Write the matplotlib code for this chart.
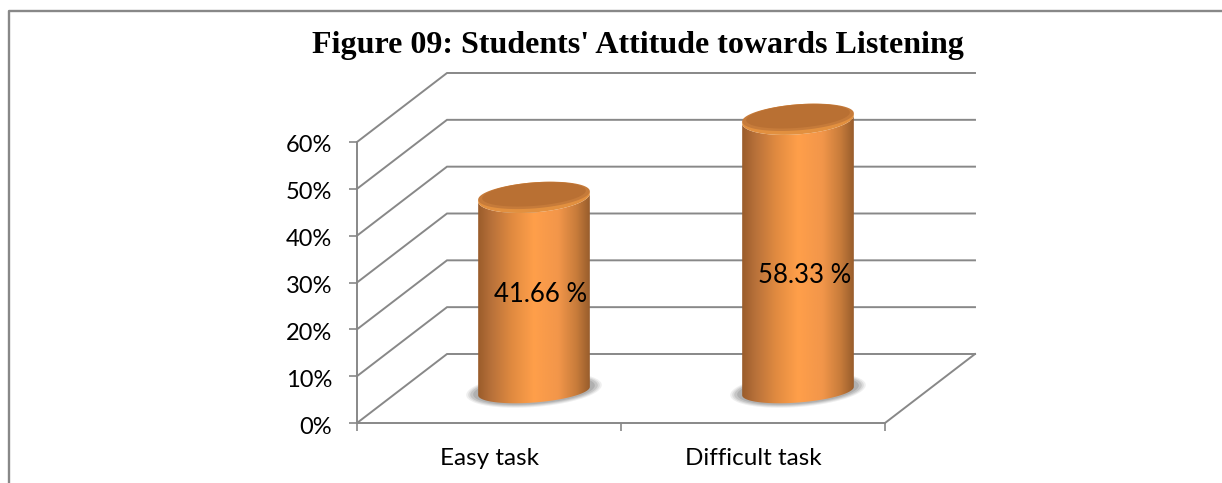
import numpy as np
import matplotlib
matplotlib.use('Agg')
import matplotlib.pyplot as plt
from matplotlib.colors import LinearSegmentedColormap
from matplotlib.patches import PathPatch
from matplotlib.path import Path
from matplotlib.transforms import ScaledTranslation

categories = ['Easy task', 'Difficult task']
values = [41.66, 58.33]
value_labels = ['41.66 %', '58.33 %']
y_ticks = [0, 10, 20, 30, 40, 50, 60]
y_tick_labels = ['0%', '10%', '20%', '30%', '40%', '50%', '60%']
title = "Figure 09: Students' Attitude towards Listening"

W, H = 1222, 483
GRAY = '#888888'
# pixels per data unit
XS, YS = 264, 4.683
# depth of the fake 3d floor, in data units
DX = 90 / XS
DY = 69 / YS

fig = plt.figure(figsize=(W / 100, H / 100), dpi=100)
ax = fig.add_axes([357 / W, (H - 423) / H, 528 / W, 281 / H])

# frame: left and top only, runs off the right side
fig.add_artist(plt.Line2D([9 / W, 9 / W, 1], [0, 1 - 11 / H, 1 - 11 / H], color=GRAY, lw=1.7))

# walls and floor
for v in y_ticks:
    ax.plot([0, DX, 2 + DX], [v, v + DY, v + DY], color=GRAY, lw=1.4,
            clip_on=False, zorder=1, solid_joinstyle='miter')
ax.plot([2, 2 + DX], [0, DY], color=GRAY, lw=1.4, clip_on=False, zorder=1)

for s in ['top', 'right']:
    ax.spines[s].set_visible(False)
for s in ['left', 'bottom']:
    ax.spines[s].set_color(GRAY)
    ax.spines[s].set_linewidth(1.4)

ax.set_yticks(y_ticks)
ax.set_yticklabels(y_tick_labels, fontsize=17, family='Lato')
ax.set_xticks([0, 1, 2])
ax.set_xticklabels([])
ax.tick_params(axis='both', length=6, width=1.2, color=GRAY, labelcolor='black')
ax.tick_params(axis='y', pad=12)
# labels sit a little under their ticks
for lab in ax.get_yticklabels():
    lab.set_transform(lab.get_transform() + ScaledTranslation(0, -2 / 100, fig.dpi_scale_trans))

for i, c in enumerate(categories):
    ax.annotate(c, (i + 0.5, 0), xytext=(0, -25.5), textcoords='offset points',
                ha='center', va='center', fontsize=17.5, family='Lato')

cyl = LinearSegmentedColormap.from_list('cyl', [
    (0, '#9a5c2b'), (0.12, '#b8713a'), (0.3, '#e08a40'), (0.5, '#ff9f4a'),
    (0.72, '#f2964a'), (0.88, '#c87c3b'), (1, '#985d2c')])
grad = np.linspace(0, 1, 256).reshape(1, -1)

half_w = 56 / XS
base = 32 / YS
top_drop = 1.5 / YS
label_shift = [-0.3, -4.5]


def ellipse_pts(cx, cy, t0, t1, a=56, b=15, n=80):
    # tilted ellipse worked out in pixels, then back in data units
    t = np.radians(np.linspace(t0, t1, n))
    px = a * np.cos(t)
    py = b * np.sin(t)
    r = np.radians(4.5)
    qx = px * np.cos(r) - py * np.sin(r)
    qy = px * np.sin(r) + py * np.cos(r)
    return cx + qx / XS, cy + qy / YS


for i, v in enumerate(values):
    cx = i + 0.5 + DX / 2
    top = base + v - top_drop

    # soft shadow under the cylinder
    for a, b, alpha in [(68, 17, 0.1), (66, 16, 0.14), (64, 15, 0.18), (61, 14, 0.22)]:
        sx, sy = ellipse_pts(cx, base + 1 / YS, 0, 360, a, b)
        ax.fill(sx, sy, color='#666666', alpha=alpha, lw=0, zorder=2, clip_on=False)

    # body: gradient clipped to the outline
    bx, by = ellipse_pts(cx, base, 180, 360, 56, 11.5)
    tx, ty = ellipse_pts(cx, top, 360, 180)
    verts = list(zip(bx, by)) + list(zip(tx, ty))
    body = Path(verts + [verts[0]], closed=True)
    im = ax.imshow(grad, cmap=cyl, extent=[cx - half_w, cx + half_w, base - 5, top + 5],
                   aspect='auto', zorder=3)
    patch = PathPatch(body, transform=ax.transData, fc='none', ec='none')
    ax.add_patch(patch)
    im.set_clip_box(fig.bbox)
    im.set_clip_path(patch)

    # top of the cylinder: bevel, then flat face
    ex, ey = ellipse_pts(cx, top, 0, 360)
    ax.fill(ex, ey, color='#e2903f', lw=0, zorder=4, clip_on=False)
    ex, ey = ellipse_pts(cx, top + 2 / YS, 0, 360, 56, 13)
    ax.fill(ex, ey, color='#c67b3a', lw=0, zorder=4, clip_on=False)
    ex, ey = ellipse_pts(cx, top + 3 / YS, 0, 360, 52, 11.5)
    ax.fill(ex, ey, color='#b97033', lw=0, zorder=4, clip_on=False)

    ax.text(cx + 7 / XS, v / 2 + base + label_shift[i], value_labels[i],
            ha='center', va='center', fontsize=18.5, family='Lato', zorder=5)

ax.set_xlim(0, 2)
ax.set_ylim(0, 60)

fig.text(638 / W, 1 - 46 / H, title, ha='center', va='center', fontsize=23,
         family='Liberation Serif', fontweight='bold')

fig.savefig('out.png', dpi=100)
